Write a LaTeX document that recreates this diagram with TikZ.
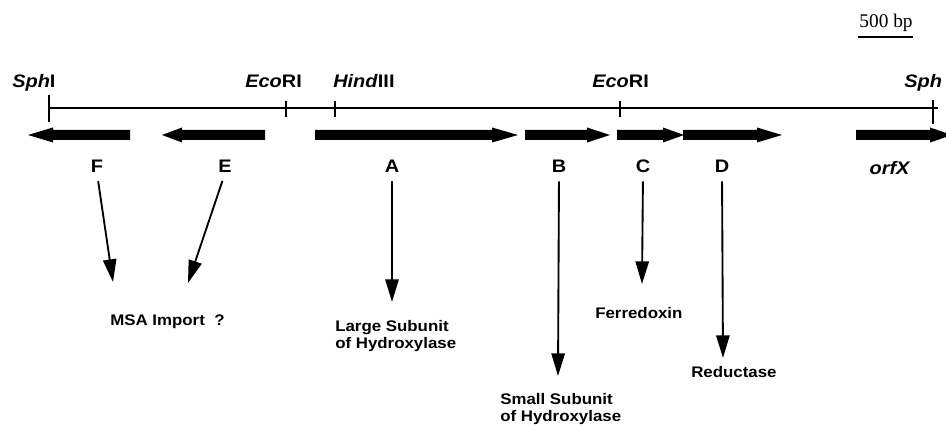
\documentclass[tikz,border=0pt]{standalone}
\usepackage{fontspec}
\setmainfont{Liberation Serif}
\newfontfamily\lbl[FakeStretch=1.1]{Liberation Sans}
\usetikzlibrary{arrows.meta}
\begin{document}
\begin{tikzpicture}[x=0.75pt,y=-0.75pt,
  site/.style={font=\lbl\bfseries\fontsize{13.6}{16}\selectfont, inner sep=0, anchor=base west},
  gene/.style={font=\lbl\bfseries\fontsize{13.6}{16}\selectfont, inner sep=0, anchor=base},
  desc/.style={font=\lbl\bfseries\fontsize{11.5}{13}\selectfont, inner sep=0, anchor=north west, align=left},
  sitetick/.style={line width=1.1pt},
  conn/.style={line width=1.4pt, shorten <=6pt, -{Triangle[length=17pt,width=10pt]}},
]
\useasboundingbox (0,0) rectangle (946,427);

% scale bar
\node[font=\fontsize{14.5}{16}\selectfont, inner sep=0, anchor=base] (sb) at (886,28) {500 bp};
\draw[line width=1.4pt] (858,37) -- (913,37);

% map line
\draw[line width=1.1pt] (49,108) -- (938,108);
\draw[sitetick] (49,95) -- (49,122);
\draw[sitetick] (286,101) -- (286,117);
\draw[sitetick] (335,101) -- (335,117);
\draw[sitetick] (620,101) -- (620,117);
\draw[sitetick] (933,100) -- (933,124);

% restriction sites
\node[site] (s1) at (12,88) {\textit{Sph}I};
\node[site] (s2) at (245,88) {\textit{Eco}RI};
\node[site] (s3) at (333,88) {\textit{Hind}III};
\node[site] (s4) at (592,88) {\textit{Eco}RI};
\node[site] (s5) at (904,88) {\textit{Sph}};

% genes
\fill (130,130) -- (53,130) -- (53,127.5) -- (28,135) -- (53,142.5) -- (53,140) -- (130,140) -- cycle;
\fill (265,130) -- (182,130) -- (182,127.5) -- (162,135) -- (182,142.5) -- (182,140) -- (265,140) -- cycle;
\fill (315,130) -- (492,130) -- (492,127.5) -- (518,135) -- (492,142.5) -- (492,140) -- (315,140) -- cycle;
\fill (525,130) -- (587,130) -- (587,127.5) -- (610,135) -- (587,142.5) -- (587,140) -- (525,140) -- cycle;
\fill (617,130) -- (663,130) -- (663,127.5) -- (684,135) -- (663,142.5) -- (663,140) -- (617,140) -- cycle;
\fill (683,130) -- (757,130) -- (757,127.5) -- (782,135) -- (757,142.5) -- (757,140) -- (683,140) -- cycle;
\fill (856,130) -- (930,130) -- (930,127.5) -- (952,135) -- (930,142.5) -- (930,140) -- (856,140) -- cycle;

% gene letters
\node[gene] (F) at (97,173) {F};
\node[gene] (E) at (225,173) {E};
\node[gene] (A) at (392,173) {A};
\node[gene] (B) at (559,173) {B};
\node[gene] (C) at (643,173) {C};
\node[gene] (D) at (722,173) {D};
\node[gene] (X) at (890,175) {\textit{orfX}};

% products
\node[desc] (msa) at (110,315) {MSA Import\ \ ?};
\node[desc] (large) at (335,320) {Large Subunit\\of Hydroxylase};
\node[desc] (small) at (500,393) {Small Subunit\\of Hydroxylase};
\node[desc] (fer) at (595,307) {Ferredoxin};
\node[desc] (red) at (691,366) {Reductase};

\coordinate (Fend) at (113,282);
\coordinate (Eend) at (188,283);
\coordinate (Aend) at (392,302);
\coordinate (Bend) at (558,376);
\coordinate (Cend) at (642,284);
\coordinate (Dend) at (723,358);

\draw[conn] (F.south) -- (Fend);
\draw[conn] (E.south) -- (Eend);
\draw[conn] (A.south) -- (Aend);
\draw[conn] (B.south) -- (Bend);
\draw[conn] (C.south) -- (Cend);
\draw[conn] (D.south) -- (Dend);
\end{tikzpicture}
\end{document}
